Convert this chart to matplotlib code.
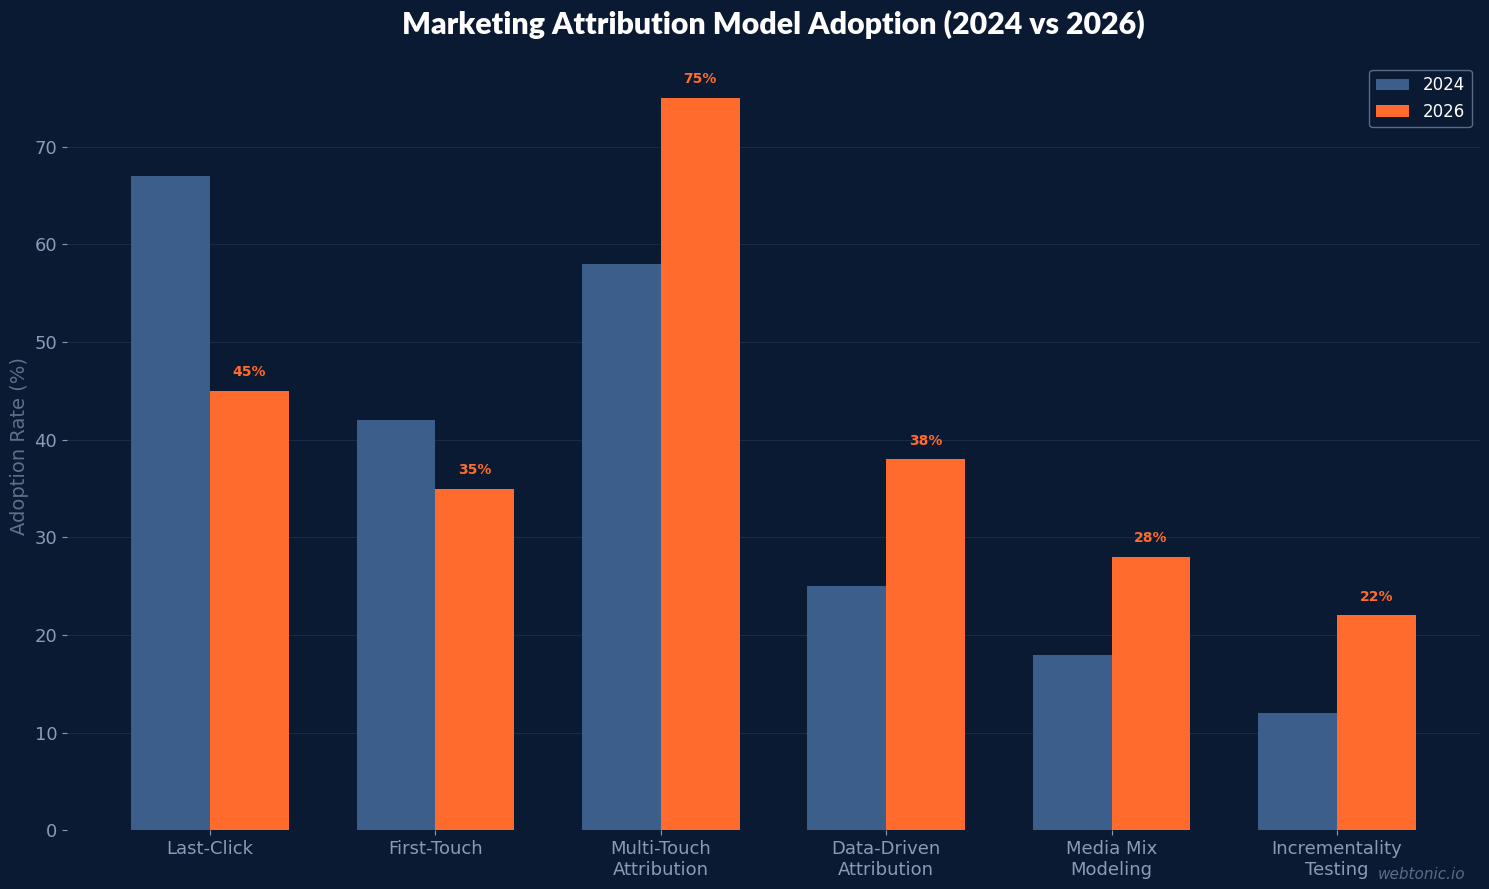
import matplotlib
matplotlib.use("Agg")
import matplotlib.pyplot as plt
import numpy as np

categories = ["Last-Click", "First-Touch", "Multi-Touch\nAttribution",
              "Data-Driven\nAttribution", "Media Mix\nModeling", "Incrementality\nTesting"]
adoption_2024 = [67, 42, 58, 25, 18, 12]
adoption_2026 = [45, 35, 75, 38, 28, 22]

bg = '#0b1a33'
blue = '#3b5f8a'
orange = '#ff6b2c'
muted = '#8a9bb5'

fig, ax = plt.subplots(figsize=(14.89, 8.89), dpi=100)
fig.patch.set_facecolor(bg)
ax.set_facecolor(bg)

x = np.arange(len(categories))
width = 0.35

ax.bar(x - width / 2, adoption_2024, width, color=blue, label='2024', zorder=3)
bars26 = ax.bar(x + width / 2, adoption_2026, width, color=orange, label='2026', zorder=3)

# value labels on the 2026 bars
for b, v in zip(bars26, adoption_2026):
    ax.text(b.get_x() + b.get_width() / 2, v + 1.2, f"{v}%", ha='center', va='bottom',
            color=orange, fontsize=10, fontweight='bold')

ax.set_xticks(x)
ax.set_xticklabels(categories, fontsize=13, color=muted)
ax.tick_params(axis='y', labelsize=13, colors=muted)
ax.tick_params(axis='x', colors=muted)
ax.set_ylim(0, max(adoption_2026) * 1.05)
ax.set_ylabel("Adoption Rate (%)", fontsize=14, color='#5d6f8c')

ax.yaxis.grid(True, color='#1c2a45', linewidth=0.8, zorder=0)
ax.set_axisbelow(True)
for s in ax.spines.values():
    s.set_visible(False)

leg = ax.legend(fontsize=12, facecolor=bg, edgecolor='#5a6b85', labelcolor='white', framealpha=1)

ax.set_title("Marketing Attribution Model Adoption (2024 vs 2026)", fontsize=21.8,
             fontweight='heavy', color='white', family='Lato', pad=20)

fig.text(0.984, 0.008, "webtonic.io", ha='right', va='bottom', fontsize=11,
         style='italic', color='#5a6b85')

plt.subplots_adjust(left=0.045, right=0.994, bottom=0.066, top=0.931)
plt.savefig("out.png", facecolor=bg)
